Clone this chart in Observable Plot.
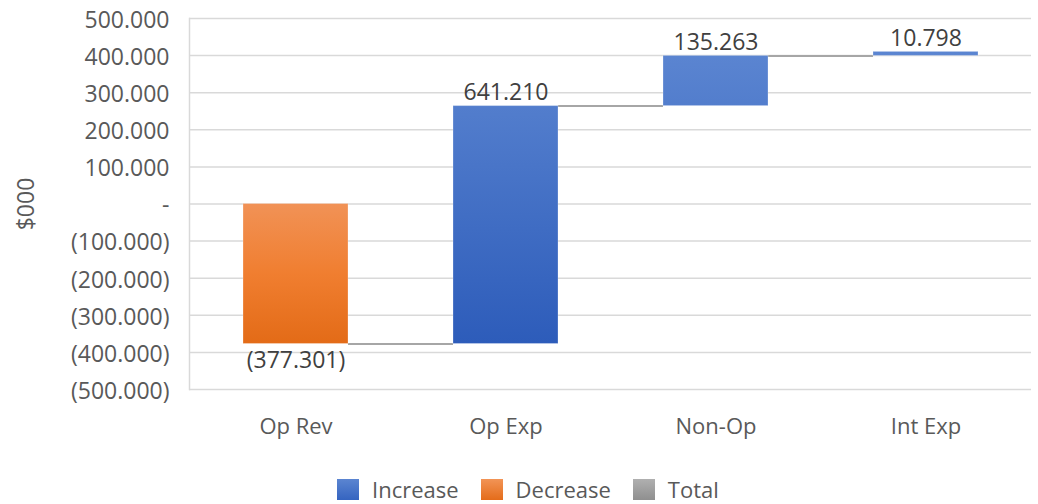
<!DOCTYPE html>
<html>
<head>
<meta charset="utf-8">
<script src="https://cdn.jsdelivr.net/npm/d3@7"></script>
<script src="https://cdn.jsdelivr.net/npm/@observablehq/plot@0.6"></script>
<style>
  body { margin: 0; background: #fff; font-family: "Open Sans", sans-serif; }
  #chart { width: 1038px; }
  .legend { display: flex; align-items: center; height: 34px; margin-top: 2px; padding-left: 337px; font-size: 22px; color: #595959; }
  .legend .item { display: flex; align-items: center; margin-right: 22px; }
  .legend .sw { width: 22px; height: 21px; margin-right: 13px; }
</style>
</head>
<body>
<div id="chart"></div>
<div class="legend" id="legend"></div>
<script>
// Waterfall steps, $000
const categories = ["Op Rev", "Op Exp", "Non-Op", "Int Exp"];
const changes = [-377.301, 641.210, 135.263, 10.798];
const yTicks = [-500, -400, -300, -200, -100, 0, 100, 200, 300, 400, 500];
const legendItems = ["Increase", "Decrease", "Total"];
const legendSwatches = {
  Increase: "linear-gradient(#5b85d1, #3564c0)",
  Decrease: "linear-gradient(#f29456, #e46c1a)",
  Total: "linear-gradient(#b0b0b0, #8f8f8f)"
};

// Accounting-style number format: zero as "-", negatives in parentheses
const f3 = d3.format(",.3f");
const fmt = (v) => Math.abs(v) < 1e-9 ? "-" : v < 0 ? `(${f3(-v)})` : f3(v);

// Running totals for each step
let level = 0;
const steps = categories.map((cat, i) => {
  const start = level;
  level += changes[i];
  return {cat, start, end: level, value: changes[i], type: changes[i] >= 0 ? "Increase" : "Decrease"};
});
const increases = steps.filter((d) => d.type === "Increase");
const decreases = steps.filter((d) => d.type === "Decrease");

// Connector lines from each bar's end to the next bar
const connectors = steps.slice(0, -1).map((d, i) => ({from: d.cat, to: steps[i + 1].cat, level: d.end}));

function build(bandwidth) {
  return Plot.plot({
    width: 1038,
    height: 470,
    marginLeft: 189,
    marginRight: 7,
    marginTop: 18,
    marginBottom: 81,
    style: {fontFamily: '"Open Sans", sans-serif', background: "#fff", overflow: "visible"},
    x: {domain: categories, paddingInner: 0.5, paddingOuter: 0.25, label: null},
    y: {domain: [-500, 500], label: null},
    marks: [
      Plot.gridY(yTicks, {stroke: "#d9d9d9", strokeOpacity: 1, strokeWidth: 1.5}),
      Plot.frame({anchor: "left", stroke: "#d9d9d9", strokeWidth: 1.5}),
      Plot.axisY(yTicks, {
        tickSize: 0, tickPadding: 20, tickFormat: fmt, fontSize: 23, fill: "#595959", dy: 2,
        label: "$000", labelAnchor: "center", labelOffset: 172, labelArrow: "none"
      }),
      Plot.axisX({tickSize: 0, tickPadding: 29, fontSize: 22, fill: "#595959", label: null}),
      Plot.ruleY(connectors, {
        x1: "from", x2: "to", y: "level",
        insetLeft: bandwidth, insetRight: bandwidth,
        stroke: "#a6a6a6", strokeWidth: 2
      }),
      Plot.barY(decreases, {x: "cat", y1: "start", y2: "end", fill: "url(#fill-decrease)", stroke: "#ffffff", strokeOpacity: 0.25}),
      Plot.barY(increases, {x: "cat", y1: "start", y2: "end", fill: "url(#fill-increase)", stroke: "#ffffff", strokeOpacity: 0.25}),
      Plot.text(increases, {x: "cat", y: "end", text: (d) => fmt(d.value), lineAnchor: "bottom", dy: -6, fontSize: 23, fill: "#404040"}),
      Plot.text(decreases, {x: "cat", y: "end", text: (d) => fmt(d.value), lineAnchor: "top", dy: 8, fontSize: 23, fill: "#404040"})
    ]
  });
}

// First pass gives the band width used to trim connectors to the gaps between bars
const probe = build(0);
const bw = probe.scale("x").bandwidth;
const chart = build(bw);
const y = chart.scale("y");

// Gradient fills for the bars
const defs = d3.select(chart).insert("defs", ":first-child");
const inc = defs.append("linearGradient")
  .attr("id", "fill-increase")
  .attr("gradientUnits", "userSpaceOnUse")
  .attr("x1", 0).attr("x2", 0)
  .attr("y1", y.apply(d3.max(increases, (d) => d.end)))
  .attr("y2", y.apply(d3.min(increases, (d) => d.start)));
inc.append("stop").attr("offset", 0).attr("stop-color", "#5b85d1");
inc.append("stop").attr("offset", 1).attr("stop-color", "#2d5cba");
const dec = defs.append("linearGradient")
  .attr("id", "fill-decrease")
  .attr("x1", 0).attr("x2", 0).attr("y1", 0).attr("y2", 1);
dec.append("stop").attr("offset", 0).attr("stop-color", "#f19256");
dec.append("stop").attr("offset", 0.5).attr("stop-color", "#f07e30");
dec.append("stop").attr("offset", 1).attr("stop-color", "#e36b17");

document.getElementById("chart").appendChild(chart);

// Legend
const legend = d3.select("#legend");
legendItems.forEach((name) => {
  const item = legend.append("div").attr("class", "item");
  item.append("div").attr("class", "sw").style("background", legendSwatches[name]);
  item.append("span").text(name);
});
</script>
</body>
</html>
